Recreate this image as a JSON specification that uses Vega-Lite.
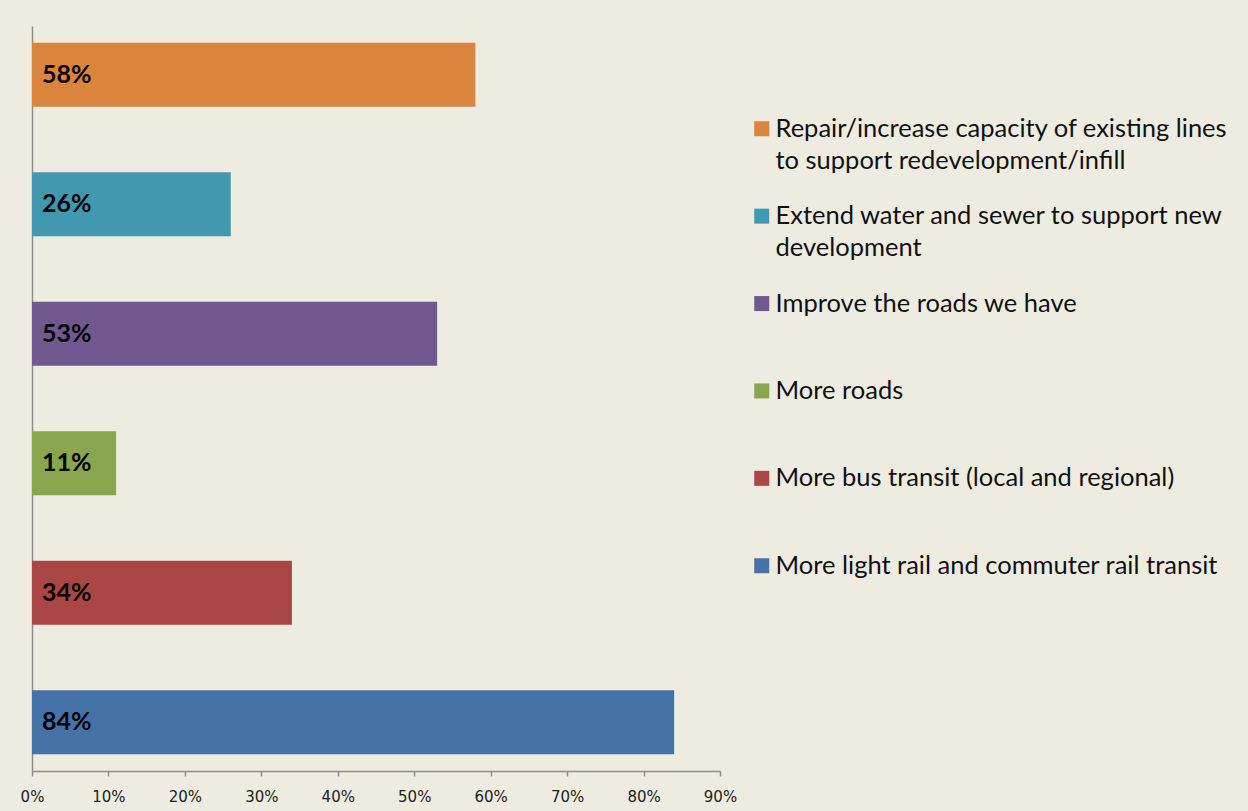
{
  "$schema": "https://vega.github.io/schema/vega-lite/v6.json",
  "autosize": {"type": "none"},
  "padding": {"left": 32, "top": 26, "right": 528, "bottom": 40},
  "width": 688,
  "height": 745,
  "background": "#EEECE1",
  "data": {
    "values": [
      {"option": "Repair/increase capacity of existing lines to support redevelopment/infill", "share": 0.58, "label": "58%"},
      {"option": "Extend water and sewer to support new development", "share": 0.26, "label": "26%"},
      {"option": "Improve the roads we have", "share": 0.53, "label": "53%"},
      {"option": "More roads", "share": 0.11, "label": "11%"},
      {"option": "More bus transit (local and regional)", "share": 0.34, "label": "34%"},
      {"option": "More light rail and commuter rail transit", "share": 0.84, "label": "84%"}
    ]
  },
  "config": {"view": {"stroke": null}, "style": {"guide-label": {"lineHeight": 32}}},
  "encoding": {
    "y": {
      "field": "option",
      "type": "nominal",
      "sort": null,
      "scale": {"paddingInner": 0.506, "paddingOuter": 0.13},
      "axis": {"title": null, "labels": false, "ticks": false, "domain": true, "domainColor": "#8C8C8C", "domainWidth": 1.5}
    }
  },
  "layer": [
    {
      "mark": {"type": "bar"},
      "encoding": {
        "x": {
          "field": "share",
          "type": "quantitative",
          "scale": {"domain": [0, 0.9], "nice": false},
          "axis": {
            "title": null,
            "format": "~%",
            "values": [0, 0.1, 0.2, 0.3, 0.4, 0.5, 0.6, 0.7, 0.8, 0.9],
            "grid": false,
            "labelFlush": false,
            "domainColor": "#8C8C8C",
            "domainWidth": 1.5,
            "tickColor": "#8C8C8C",
            "tickWidth": 1.5,
            "tickSize": 5,
            "labelFont": "DejaVu Sans",
            "labelFontSize": 15,
            "labelColor": "#222222",
            "labelPadding": 13
          }
        },
        "color": {
          "field": "option",
          "type": "nominal",
          "scale": {
            "domain": [
              "Repair/increase capacity of existing lines to support redevelopment/infill",
              "Extend water and sewer to support new development",
              "Improve the roads we have",
              "More roads",
              "More bus transit (local and regional)",
              "More light rail and commuter rail transit"
            ],
            "range": ["#DB843D", "#4198AF", "#71588F", "#89A54E", "#AA4643", "#4572A7"]
          },
          "legend": {
            "title": null,
            "orient": "none",
            "legendX": 717,
            "legendY": 90,
            "symbolType": "square",
            "symbolSize": 225,
            "symbolStrokeWidth": 0,
            "labelOffset": 1,
            "labelFont": "Lato",
            "labelFontSize": 25.5,
            "labelColor": "#111111",
            "labelBaseline": "middle",
            "labelLimit": 600,
            "gridAlign": "all",
            "rowPadding": 28.4,
            "labelExpr": "datum.label == 'Repair/increase capacity of existing lines to support redevelopment/infill' ? ['Repair/increase capacity of existing lines', 'to support redevelopment/infill'] : datum.label == 'Extend water and sewer to support new development' ? ['Extend water and sewer to support new', 'development'] : datum.label"
          }
        }
      }
    },
    {
      "mark": {"type": "text", "align": "left", "baseline": "middle", "dx": 10, "font": "Lato", "fontWeight": "bold", "fontSize": 25, "color": "#000000"},
      "encoding": {
        "x": {"datum": 0, "type": "quantitative"},
        "text": {"field": "label"}
      }
    }
  ]
}
